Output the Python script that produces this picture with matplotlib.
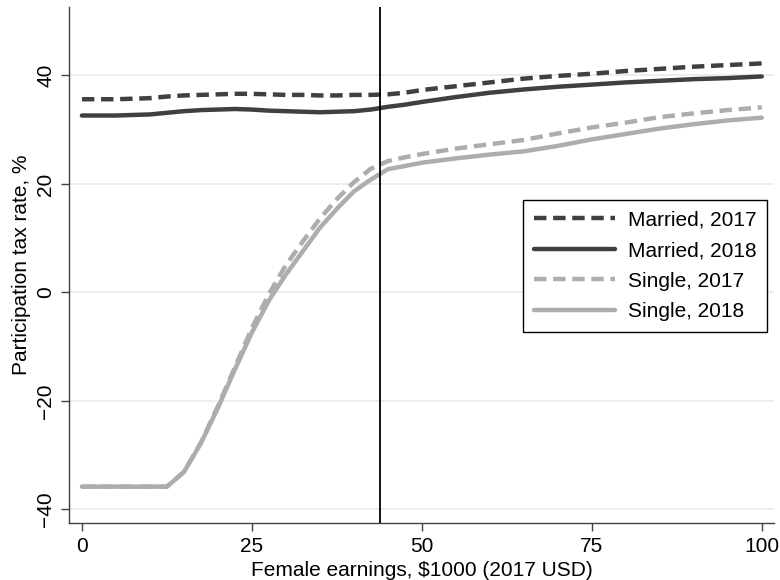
import matplotlib
matplotlib.use('Agg')
import matplotlib.pyplot as plt

# female earnings, $1000 (2017 USD)
earnings = [0, 5, 10, 12.5, 15, 17.5, 20, 22.5, 25, 27.5, 30, 32.5, 35, 37.5, 40,
            42.5, 45, 47.5, 50, 55, 60, 65, 70, 75, 80, 85, 90, 95, 100]

married_2017 = [35.6, 35.6, 35.8, 36.1, 36.3, 36.4, 36.5, 36.6, 36.6, 36.5, 36.4, 36.4,
                36.3, 36.3, 36.4, 36.4, 36.5, 36.8, 37.3, 38.0, 38.7, 39.4, 39.9, 40.3,
                40.8, 41.2, 41.6, 41.9, 42.2]
married_2018 = [32.6, 32.6, 32.8, 33.1, 33.4, 33.6, 33.7, 33.8, 33.7, 33.5, 33.4, 33.3,
                33.2, 33.3, 33.4, 33.7, 34.2, 34.6, 35.1, 36.0, 36.8, 37.4, 37.9, 38.3,
                38.7, 39.0, 39.3, 39.5, 39.8]
single_2017 = [-35.8, -35.8, -35.8, -35.8, -33.1, -27.7, -21.0, -13.8, -6.6, -0.3, 5.0,
               9.4, 13.6, 17.2, 20.3, 22.8, 24.2, 24.9, 25.5, 26.5, 27.3, 28.1, 29.3,
               30.4, 31.3, 32.3, 33.0, 33.6, 34.1]
single_2018 = [-35.8, -35.8, -35.8, -35.8, -33.1, -27.8, -21.3, -14.2, -7.4, -1.5, 3.3,
               7.6, 11.9, 15.4, 18.6, 20.8, 22.7, 23.3, 23.9, 24.7, 25.4, 26.0, 27.0,
               28.2, 29.2, 30.2, 31.0, 31.7, 32.2]

series_labels = ['Married, 2017', 'Married, 2018', 'Single, 2017', 'Single, 2018']
cutoff = 43.8

x_ticks = [0, 25, 50, 75, 100]
y_ticks = [-40, -20, 0, 20, 40]

plt.rcParams['font.family'] = ['Liberation Sans', 'DejaVu Sans']
plt.rcParams['font.size'] = 15

dark = '#404040'
light = '#adadad'
dash = (2.8, 1.5)

fig = plt.figure(figsize=(7.8, 5.8), dpi=100)
ax = fig.add_axes([69 / 780, 1 - 523 / 580, (774 - 69) / 780, (523 - 7) / 580])

lw = 3.2
ax.plot(earnings, married_2017, color=dark, lw=lw, dashes=dash, label=series_labels[0])
ax.plot(earnings, married_2018, color=dark, lw=lw, solid_capstyle='round', label=series_labels[1])
ax.plot(earnings, single_2017, color=light, lw=lw, dashes=dash, label=series_labels[2])
ax.plot(earnings, single_2018, color=light, lw=lw, solid_capstyle='round', label=series_labels[3])

ax.axvline(cutoff, color='black', lw=1.3, zorder=3)

ax.set_xlim(-1.9, 101.8)
ax.set_ylim(-42.5, 52.6)
ax.set_xticks(x_ticks)
ax.set_yticks(y_ticks)
ax.set_yticklabels([str(v).replace('-', '\u2212') for v in y_ticks], rotation=90, va='center')

ax.grid(axis='y', color='#e8e8e8', lw=1.1)
ax.set_axisbelow(True)

for s in ['top', 'right']:
    ax.spines[s].set_visible(False)
for s in ['left', 'bottom']:
    ax.spines[s].set_color(dark)
    ax.spines[s].set_linewidth(1.0)
ax.tick_params(direction='out', length=6, width=1.0, color=dark, pad=4)

ax.set_xlabel('Female earnings, $1000 (2017 USD)', labelpad=3.5)
ax.set_ylabel('Participation tax rate, %', labelpad=4)

leg = ax.legend(loc='upper right', bbox_to_anchor=(767 / 780, 1 - 200 / 580),
                bbox_transform=fig.transFigure, borderaxespad=0, fancybox=False,
                edgecolor='black', framealpha=1, handlelength=3.9, labelspacing=0.56,
                handletextpad=0.62, borderpad=0.5)
leg.get_frame().set_linewidth(1.0)

fig.savefig('out.png', dpi=100)
